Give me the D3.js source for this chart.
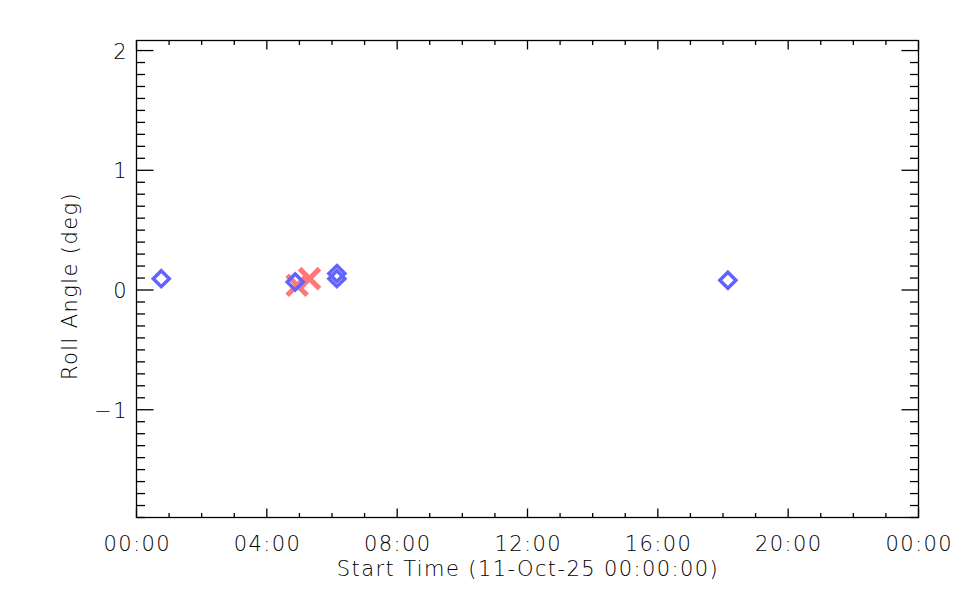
<!DOCTYPE html>
<html>
<head>
<meta charset="utf-8">
<script src="https://cdn.jsdelivr.net/npm/d3@7"></script>
<style>
body{margin:0;background:#fff;}
text{font-family:"DejaVu Sans",sans-serif;font-weight:200;fill:#000;letter-spacing:1.4px;}
</style>
</head>
<body>
<svg id="c" width="960" height="600"></svg>
<script>
// Data (hours since 11-Oct-25 00:00:00, roll angle in degrees)
const diamondHours = [0.76, 4.87, 6.15, 6.15, 18.15];
const diamondRoll  = [0.095, 0.067, 0.137, 0.095, 0.081];
const crossHours   = [4.93, 5.31];
const crossRoll    = [0.04, 0.095];
const xTickHours   = [0, 4, 8, 12, 16, 20, 24];
const xTickLabels  = ["00:00","04:00","08:00","12:00","16:00","20:00","00:00"];
const yTicks       = [-1, 0, 1, 2];
const xTitle = "Start Time (11-Oct-25 00:00:00)";
const yTitle = "Roll Angle (deg)";

const svg = d3.select("#c");
const L=136.5, R=918.5, T=40.5, B=517.5;
const x = d3.scaleLinear().domain([0,24]).range([L,R]);
const y = d3.scaleLinear().domain([-1.9,2.084]).range([B,T]);

const g = svg.append("g");
g.append("rect").attr("x",L).attr("y",T).attr("width",R-L).attr("height",B-T)
 .attr("fill","none").attr("stroke","#000").attr("stroke-width",1.3);

// x ticks
const xMinor = d3.range(0,25,1);
xMinor.forEach(h=>{
  const major = h%4===0;
  const len = major?9:4.5;
  g.append("line").attr("x1",x(h)).attr("x2",x(h)).attr("y1",B).attr("y2",B-len).attr("stroke","#000").attr("stroke-width",1.3);
  g.append("line").attr("x1",x(h)).attr("x2",x(h)).attr("y1",T).attr("y2",T+len).attr("stroke","#000").attr("stroke-width",1.3);
});
xTickHours.forEach((h,i)=>{
  g.append("text").attr("x",x(h)+0.7).attr("y",551).attr("text-anchor","middle").attr("font-size",21).text(xTickLabels[i]);
});

// y ticks
const yMinor = d3.range(-19,21,1).map(v=>v/10);
yMinor.forEach(v=>{
  const major = Math.abs(v-Math.round(v))<1e-9;
  const len = major?17:8.5;
  g.append("line").attr("x1",L).attr("x2",L+len).attr("y1",y(v)).attr("y2",y(v)).attr("stroke","#000").attr("stroke-width",1.3);
  g.append("line").attr("x1",R).attr("x2",R-len).attr("y1",y(v)).attr("y2",y(v)).attr("stroke","#000").attr("stroke-width",1.3);
});
yTicks.forEach(v=>{
  g.append("text").attr("x",128).attr("y",y(v)+8).attr("text-anchor","end").attr("font-size",21)
   .text(v<0?"\u2212"+Math.abs(v):String(v));
});

g.append("text").attr("x",528).attr("y",576).attr("text-anchor","middle").attr("font-size",21).text(xTitle);
g.append("text").attr("transform","translate(77,286) rotate(-90)").attr("text-anchor","middle").attr("font-size",21).text(yTitle);

// crosses
const cs=10;
crossHours.forEach((h,i)=>{
  const cx=x(h), cy=y(crossRoll[i]);
  g.append("path").attr("d",`M${cx-cs},${cy-cs}L${cx+cs},${cy+cs}M${cx-cs},${cy+cs}L${cx+cs},${cy-cs}`)
   .attr("stroke","#ff7878").attr("stroke-width",5).attr("fill","none");
});
// diamonds
const ds=8;
diamondHours.forEach((h,i)=>{
  const cx=x(h), cy=y(diamondRoll[i]);
  g.append("path").attr("d",`M${cx},${cy-ds}L${cx+ds},${cy}L${cx},${cy+ds}L${cx-ds},${cy}Z`)
   .attr("stroke","#6262ff").attr("stroke-width",3.5).attr("fill","none");
});
</script>
</body>
</html>
